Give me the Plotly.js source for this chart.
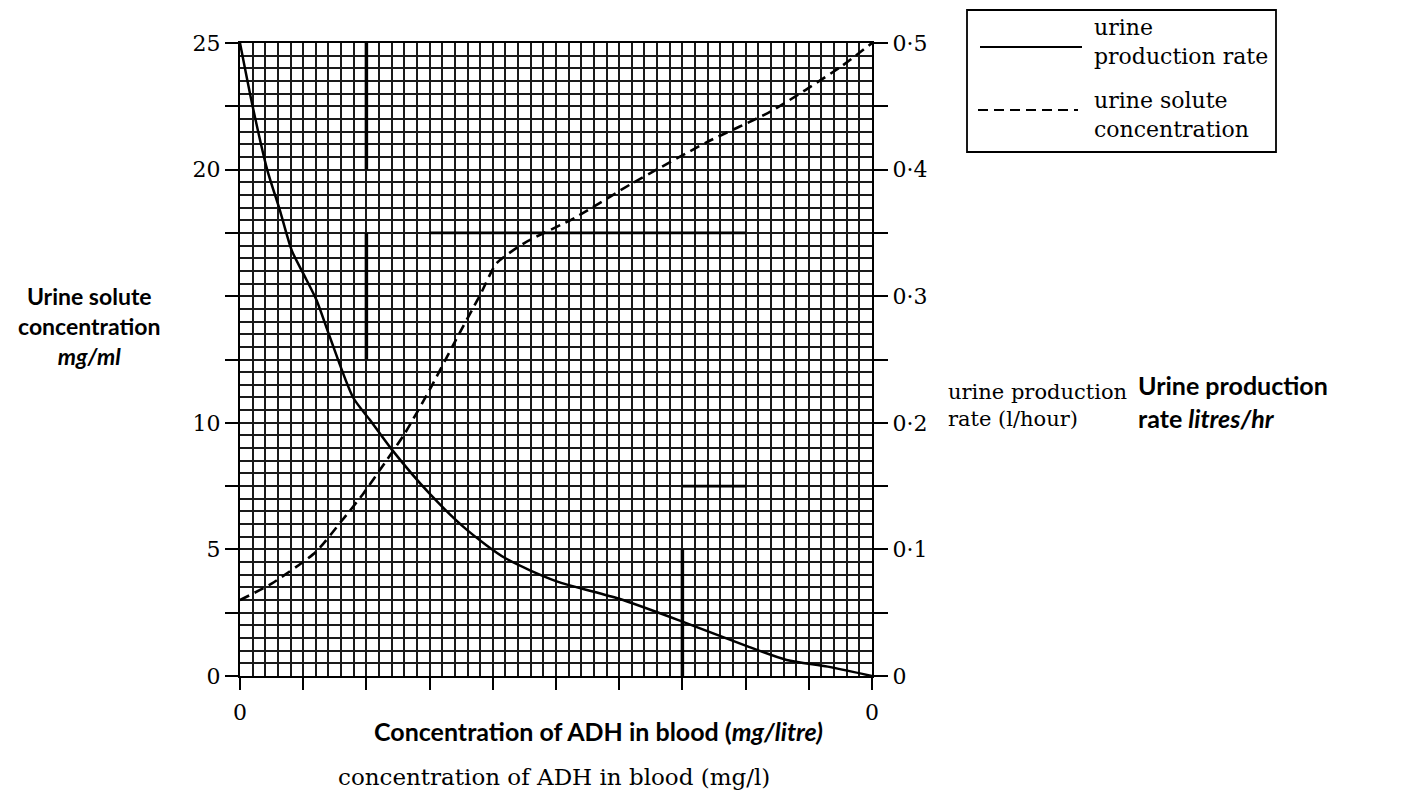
<!DOCTYPE html>
<html>
<head>
<meta charset="utf-8">
<script src="https://cdn.plot.ly/plotly-3.0.1.min.js"></script>
<style>
  html, body { margin: 0; padding: 0; background: #fff; }
  #chart { width: 1416px; height: 790px; }
</style>
</head>
<body>
<div id="chart"></div>
<script>
// ---- data ----
// urine production rate (right axis, litres/hour)
const adhRate = [0, 0.2, 0.43, 0.63, 0.82, 1.0, 1.21, 1.42, 1.79, 2.06, 2.4, 3.0, 3.6, 4.2, 5.0, 6.0, 7.0, 8.0, 8.65, 9.3, 10];
const productionRate = [0.5, 0.45, 0.4, 0.368, 0.336, 0.318, 0.297, 0.268, 0.22, 0.202, 0.179, 0.144, 0.115, 0.093, 0.075, 0.061, 0.043, 0.024, 0.0126, 0.0074, 0];
// urine solute concentration (left axis, mg/ml)
const adhSolute = [0, 0.5, 1.2, 1.6, 1.95, 2.3, 2.6, 3.0, 3.4, 3.8, 4.06, 4.5, 5.3, 6.2, 7.4, 8.4, 9.5, 10];
const soluteConc = [3, 3.65, 4.9, 6.1, 7.2, 8.45, 9.55, 11.3, 13.2, 15.05, 16.3, 17.1, 18.1, 19.45, 21.1, 22.3, 24.05, 25];

// tick labels
const xTickVals = [0,1,2,3,4,5,6,7,8,9,10];
const xTickText = ['0','','','','','','','','','','0'];
const yLeftVals = [0,2.5,5,7.5,10,12.5,15,17.5,20,22.5,25];
const yLeftText = ['0','','5','','10','','','','20','','25'];
const yRightVals = [0,0.05,0.1,0.15,0.2,0.25,0.3,0.35,0.4,0.45,0.5];
const yRightText = ['0','','0·1','','0·2','','0·3','','0·4','','0·5'];

// ---- layout helpers (pixel -> paper) ----
const L = 240, R = 872, T = 43, B = 676;
const px = v => (v - L) / (R - L);
const py = v => (B - v) / (B - T);

const SERIF = 'DejaVu Serif, Liberation Serif, serif';
const SANS = 'Lato, Open Sans, sans-serif';
const GRID = '#1a1a1a';

const traces = [
  {
    x: adhRate, y: productionRate, yaxis: 'y2', type: 'scatter', mode: 'lines',
    line: { color: '#000', width: 2.5, shape: 'spline', smoothing: 0.7 },
    name: 'urine production rate', showlegend: false, hoverinfo: 'skip'
  },
  {
    x: adhSolute, y: soluteConc, yaxis: 'y', type: 'scatter', mode: 'lines',
    line: { color: '#000', width: 2.6, dash: '10px,6px', shape: 'spline', smoothing: 0.6 },
    name: 'urine solute concentration', showlegend: false, hoverinfo: 'skip'
  }
];

function ann(text, x, y, size, font, anchor, align) {
  return {
    text: text, xref: 'paper', yref: 'paper', x: px(x), y: py(y),
    xanchor: anchor || 'left', yanchor: 'middle', align: align || anchor || 'left',
    showarrow: false,
    font: { family: font, size: size, color: '#000' }
  };
}

const annotations = [
  // left bold label
  ann('<b>Urine solute</b><br><b>concentration</b><br><b><i>mg/ml</i></b>', 89, 326, 23, SANS, 'center', 'center'),
  // right serif label
  ann('urine production<br>rate (l/hour)', 946, 405, 21, SERIF, 'left'),
  // right bold label
  ann('<b>Urine production</b><br><b>rate <i>litres/hr</i></b>', 1136, 401, 25, SANS, 'left'),
  // bottom labels
  ann('<b>Concentration of ADH in blood (<i>mg/litre)</i></b>', 598, 731, 25, SANS, 'center'),
  ann('concentration of ADH in blood (mg/l)', 554, 777, 23, SERIF, 'center'),
  // legend texts
  ann('urine<br>production rate', 1092, 42, 22, SERIF, 'left'),
  ann('urine solute<br>concentration', 1092, 115, 22, SERIF, 'left')
];

const shapes = [
  // legend box and samples
  { type: 'rect', xref: 'paper', yref: 'paper', x0: px(967), x1: px(1276), y0: py(10), y1: py(152),
    line: { color: '#000', width: 1.8 }, fillcolor: 'rgba(0,0,0,0)' },
  { type: 'line', xref: 'paper', yref: 'paper', x0: px(980), x1: px(1082), y0: py(47), y1: py(47),
    line: { color: '#000', width: 2.2 } },
  { type: 'line', xref: 'paper', yref: 'paper', x0: px(978), x1: px(1078), y0: py(110), y1: py(110),
    line: { color: '#000', width: 2.2, dash: '10px,6px' } },
  // thick leftover strokes visible on the grid paper
  { type: 'line', xref: 'x', yref: 'y', x0: 2, x1: 2, y0: 20, y1: 25, line: { color: '#000', width: 3.5 } },
  { type: 'line', xref: 'x', yref: 'y', x0: 2, x1: 2, y0: 12.5, y1: 17.5, line: { color: '#000', width: 3.5 } },
  { type: 'line', xref: 'x', yref: 'y', x0: 3, x1: 8, y0: 17.5, y1: 17.5, line: { color: '#000', width: 2.8 } },
  { type: 'line', xref: 'x', yref: 'y', x0: 7, x1: 7, y0: 0, y1: 5, line: { color: '#000', width: 3.5 } },
  { type: 'line', xref: 'x', yref: 'y', x0: 7, x1: 8, y0: 7.5, y1: 7.5, line: { color: '#000', width: 2.8 } }
];

const layout = {
  width: 1416, height: 790,
  margin: { l: L, r: 1416 - R, t: T, b: 790 - B, pad: 0 },
  paper_bgcolor: '#fff', plot_bgcolor: '#fff',
  showlegend: false,
  xaxis: {
    range: [0, 10], tickmode: 'array', tickvals: xTickVals, ticktext: xTickText,
    ticks: 'outside', ticklen: 12, tickwidth: 2, tickcolor: '#000',
    ticklabelstandoff: 4,
    showgrid: true, gridcolor: GRID, gridwidth: 2,
    minor: { tickmode: 'linear', tick0: 0, dtick: 0.2, showgrid: true, gridcolor: GRID, gridwidth: 2, ticks: '' },
    showline: true, linecolor: '#000', linewidth: 2, mirror: true, zeroline: false,
    tickfont: { family: SERIF, size: 22, color: '#000' }, fixedrange: true
  },
  yaxis: {
    range: [0, 25], tickmode: 'array', tickvals: yLeftVals, ticktext: yLeftText,
    ticks: 'outside', ticklen: 13, tickwidth: 2, tickcolor: '#000',
    showgrid: true, gridcolor: GRID, gridwidth: 2,
    minor: { tickmode: 'linear', tick0: 0, dtick: 0.5, showgrid: true, gridcolor: GRID, gridwidth: 2, ticks: '' },
    showline: true, linecolor: '#000', linewidth: 2, zeroline: false,
    tickfont: { family: SERIF, size: 22, color: '#000' }, fixedrange: true
  },
  yaxis2: {
    overlaying: 'y', side: 'right',
    range: [0, 0.5], tickmode: 'array', tickvals: yRightVals, ticktext: yRightText,
    ticks: 'outside', ticklen: 14, tickwidth: 2, tickcolor: '#000',
    showgrid: false, showline: true, linecolor: '#000', linewidth: 2, zeroline: false,
    tickfont: { family: SERIF, size: 22, color: '#000' }, fixedrange: true
  },
  annotations: annotations,
  shapes: shapes
};

Plotly.newPlot('chart', traces, layout, { staticPlot: true, displayModeBar: false });
</script>
</body>
</html>
